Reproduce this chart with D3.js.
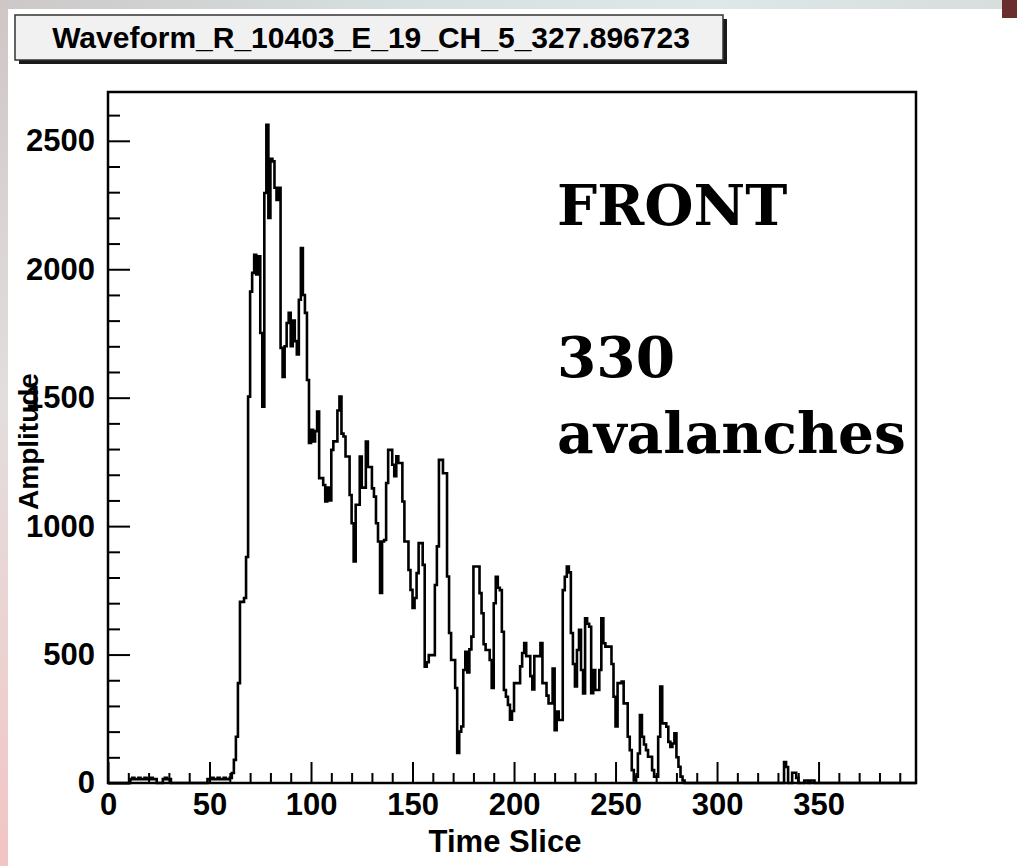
<!DOCTYPE html>
<html><head><meta charset="utf-8">
<script src="https://cdn.jsdelivr.net/npm/d3@7"></script>
<style>
html,body{margin:0;padding:0;background:#fff;}
svg{display:block;}
</style></head><body>
<svg id="chart" width="1017" height="866"></svg>
<script>
// Waveform amplitude, one value per time slice, starting at slice 0
const sliceStart = 0;
const amplitude = [
  // 0-59: pedestal
  0,0,0,0,0,0,0,0,0,0,
  0,15,20,15,15,20,15,15,20,15,
  15,20,15,15,0,0,0,15,20,15,
  15,0,0,0,0,0,0,0,0,0,
  0,0,0,0,0,0,0,0,0,15,
  15,20,15,15,20,15,15,20,15,15,
  // 60-119: rising edge and main peak
  20,39,90,180,389,705,705,720,880,1504,
  1913,1986,2056,1980,2050,1752,1465,2297,2562,2200,
  2430,2420,2317,2270,2317,1694,1581,1700,1791,1830,
  1700,1800,1720,1668,1881,2083,1900,1830,1569,1324,
  1375,1330,1370,1446,1187,1187,1160,1096,1150,1100,
  1297,1330,1330,1450,1504,1360,1349,1271,1271,1121,
  // 120-179
  1011,862,1083,1083,1271,1150,1150,1329,1230,1230,
  1147,1115,1011,940,740,940,946,1168,1297,1297,
  1239,1194,1272,1246,1246,1096,940,940,829,752,
  681,720,817,934,934,849,453,470,498,498,
  498,771,921,1258,1258,1206,1206,804,584,479,
  479,370,117,200,220,440,511,430,520,570,
  // 180-239
  843,843,843,739,661,540,518,518,479,370,
  700,803,760,751,589,362,336,304,246,280,
  389,389,389,454,506,545,494,494,416,364,
  494,494,494,545,389,389,340,310,310,446,
  206,278,245,245,751,803,843,820,584,463,
  376,518,596,440,349,641,620,608,350,440,
  // 240-289: tail
  362,362,440,641,544,531,531,531,463,336,
  220,389,389,395,310,310,180,128,50,10,
  25,115,265,180,150,128,102,102,50,25,
  25,180,375,232,232,219,160,140,154,193,
  100,63,25,10,0,0,0,0,0,0,
  // 290-349: late noise
  0,0,0,0,0,0,0,0,0,0,
  0,0,0,0,0,0,0,0,0,0,
  0,0,0,0,0,0,0,0,0,0,
  0,0,0,0,0,0,0,0,0,0,
  0,0,0,82,62,0,0,40,40,20,
  0,0,0,10,10,0,10,10,0,0
];

const xDomain = [0, 398];
const yDomain = [0, 2690];
const xMajorTicks = [0, 50, 100, 150, 200, 250, 300, 350];
const xMinorStep = 10;
const yMajorTicks = [0, 500, 1000, 1500, 2000, 2500];
const yMinorStep = 100;

const titleText = "Waveform_R_10403_E_19_CH_5_327.896723";
const xTitle = "Time Slice";
const yTitle = "Amplitude";
const noteLines = ["FRONT", "", "330", "avalanches"];

const W = 1017, H = 866;
const frame = {left: 108, right: 916, top: 92, bottom: 783};
const svg = d3.select("#chart");
const sans = "'Liberation Sans', Arial, Helvetica, sans-serif";

// slide background edges
const defs = svg.append("defs");
const gLeft = defs.append("linearGradient").attr("id", "edgeLeft")
  .attr("x1", 0).attr("y1", 0).attr("x2", 0).attr("y2", 1);
gLeft.append("stop").attr("offset", "0%").attr("stop-color", "#cfc6c6");
gLeft.append("stop").attr("offset", "45%").attr("stop-color", "#e2dede");
gLeft.append("stop").attr("offset", "75%").attr("stop-color", "#ecd2d2");
gLeft.append("stop").attr("offset", "100%").attr("stop-color", "#f2c4c4");
const gTop = defs.append("linearGradient").attr("id", "edgeTop")
  .attr("x1", 0).attr("y1", 0).attr("x2", 1).attr("y2", 0);
gTop.append("stop").attr("offset", "0%").attr("stop-color", "#cdc8c8");
gTop.append("stop").attr("offset", "40%").attr("stop-color", "#d6e0e0");
gTop.append("stop").attr("offset", "70%").attr("stop-color", "#dde8e8");
gTop.append("stop").attr("offset", "100%").attr("stop-color", "#d8dcdc");

svg.append("rect").attr("width", W).attr("height", H).attr("fill", "#fff");
svg.append("rect").attr("x", 0).attr("y", 0).attr("width", W).attr("height", 9).attr("fill", "url(#edgeTop)");
svg.append("rect").attr("x", 0).attr("y", 0).attr("width", 8).attr("height", H).attr("fill", "url(#edgeLeft)");
svg.append("rect").attr("x", 1002).attr("y", 0).attr("width", 15).attr("height", 18).attr("fill", "#6a2e2c");

// scales
const x = d3.scaleLinear().domain(xDomain).range([frame.left, frame.right]);
const y = d3.scaleLinear().domain(yDomain).range([frame.bottom, frame.top]);

// minor ticks
const xMinor = d3.range(xDomain[0], xDomain[1], xMinorStep).filter(v => !xMajorTicks.includes(v));
const yMinor = d3.range(yDomain[0], yDomain[1], yMinorStep).filter(v => !yMajorTicks.includes(v));

function styleAxis(g) {
  g.select(".domain").remove();
  g.selectAll(".tick line").attr("stroke", "#000").attr("stroke-width", 2);
  g.selectAll(".tick text").attr("fill", "#000")
    .style("font-family", sans).style("font-weight", "bold").style("font-size", "31px");
}

svg.append("g").attr("transform", `translate(0,${frame.bottom})`)
  .call(d3.axisBottom(x).tickValues(xMinor).tickSize(-10).tickFormat(""))
  .call(styleAxis);
svg.append("g").attr("transform", `translate(0,${frame.bottom})`)
  .call(d3.axisBottom(x).tickValues(xMajorTicks).tickSize(-21).tickPadding(10).tickFormat(d3.format("d")))
  .call(styleAxis);
svg.append("g").attr("transform", `translate(${frame.left},0)`)
  .call(d3.axisLeft(y).tickValues(yMinor).tickSize(-12).tickFormat(""))
  .call(styleAxis);
svg.append("g").attr("transform", `translate(${frame.left},0)`)
  .call(d3.axisLeft(y).tickValues(yMajorTicks).tickSize(-22).tickPadding(13).tickFormat(d3.format("d")))
  .call(styleAxis);

// histogram outline
const pts = amplitude.map((v, i) => [sliceStart + i, v]);
pts.push([sliceStart + amplitude.length, 0]);
pts.push([xDomain[1], 0]);
const step = d3.line().x(d => x(d[0])).y(d => y(d[1])).curve(d3.curveStepAfter);
svg.append("path").attr("d", step(pts))
  .attr("fill", "none").attr("stroke", "#000").attr("stroke-width", 2.6)
  .attr("stroke-linejoin", "miter");

// frame
svg.append("rect")
  .attr("x", frame.left).attr("y", frame.top)
  .attr("width", frame.right - frame.left).attr("height", frame.bottom - frame.top)
  .attr("fill", "none").attr("stroke", "#000").attr("stroke-width", 2.5);

// axis titles
svg.append("text").text(xTitle)
  .attr("x", 505).attr("y", 852).attr("text-anchor", "middle")
  .style("font-family", sans).style("font-weight", "bold").style("font-size", "31px");
svg.append("text").text(yTitle)
  .attr("transform", `translate(38,${(frame.top + frame.bottom) / 2 + 4}) rotate(-90)`)
  .attr("text-anchor", "middle")
  .style("font-family", sans).style("font-weight", "bold").style("font-size", "28px");

// title pave
const pave = {x: 15, y: 15, w: 708, h: 45};
svg.append("rect").attr("x", pave.x + 4).attr("y", pave.y + 4)
  .attr("width", pave.w).attr("height", pave.h).attr("fill", "#1a1a1a");
svg.append("rect").attr("x", pave.x).attr("y", pave.y)
  .attr("width", pave.w).attr("height", pave.h)
  .attr("fill", "#f1f1f1").attr("stroke", "#333").attr("stroke-width", 1.5);
svg.append("text").text(titleText)
  .attr("x", pave.x + pave.w / 2 + 2).attr("y", pave.y + 33).attr("text-anchor", "middle")
  .style("font-family", sans).style("font-weight", "bold").style("font-size", "30px");

// annotation, sized so the longest line spans its target width
const note = svg.append("g");
const baselines = [225, 301, 377, 453];
const noteTexts = note.selectAll("text").data(noteLines).join("text")
  .text(d => d)
  .attr("x", 557).attr("y", (d, i) => baselines[i])
  .style("font-family", "'DejaVu Serif', 'Liberation Serif', serif")
  .style("font-weight", "bold").style("font-size", "50px").attr("fill", "#000");
const longest = noteTexts.filter(d => d === "avalanches").node().getComputedTextLength();
noteTexts.style("font-size", (50 * 349 / longest) + "px");
</script>
</body></html>
